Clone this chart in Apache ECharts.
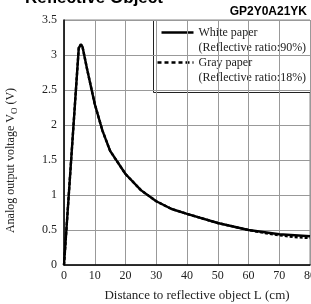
<!DOCTYPE html>
<html><head><meta charset="utf-8">
<script src="https://cdn.jsdelivr.net/npm/echarts@6/dist/echarts.min.js"></script>
<style>html,body{margin:0;padding:0;background:#fff}#c{width:311px;height:304px}</style>
</head><body><div id="c"></div>
<script>
const xTicks = [0,10,20,30,40,50,60,70,80];
const yTicks = [0,0.5,1,1.5,2,2.5,3,3.5];
const whiteDist = [0,4.8,5.5,6,7.5,10,12.5,15,20,25,30,35,40,50,60,70,80];
const whiteVolt = [0,3.1,3.15,3.12,2.8,2.3,1.92,1.63,1.3,1.07,0.91,0.8,0.73,0.6,0.5,0.44,0.41];
const grayDist = [0,4.8,5.5,6,7.5,10,12.5,15,20,25,30,35,40,50,60,65,70,75,80];
const grayVolt = [0,3.1,3.15,3.12,2.8,2.3,1.92,1.63,1.3,1.07,0.91,0.8,0.73,0.6,0.5,0.46,0.425,0.4,0.385];
const legendLabels = ['White paper','(Reflective ratio:90%)','Gray paper','(Reflective ratio:18%)'];
const titleText = 'Reflective Object';
const modelText = 'GP2Y0A21YK';

const serif = '"Liberation Serif","DejaVu Serif",serif';
const sans = '"Liberation Sans",Arial,sans-serif';
const chart = echarts.init(document.getElementById('c'));
const zip = (a,b)=>a.map((v,i)=>[v,b[i]]);
chart.setOption({
  animation:false,
  grid:{left:64,top:20,width:246,height:245,show:true,borderColor:'#888',borderWidth:1,
    containLabel:false,outerBoundsMode:'none'},
  xAxis:{type:'value',min:0,max:80,interval:10,
    axisLine:{lineStyle:{color:'#000',width:1.5}},
    axisTick:{show:false},
    splitLine:{lineStyle:{color:'#999',width:1}},
    axisLabel:{color:'#222',fontFamily:serif,fontSize:12,margin:5},
    name:'Distance to reflective object L (cm)',nameLocation:'middle',nameGap:24,
    nameTextStyle:{color:'#222',fontFamily:serif,fontSize:13,padding:[0,0,0,20]}},
  yAxis:{type:'value',min:0,max:3.5,interval:0.5,
    axisLine:{show:true,lineStyle:{color:'#000',width:1.5}},
    axisTick:{show:false},
    splitLine:{lineStyle:{color:'#999',width:1}},
    axisLabel:{color:'#222',fontFamily:serif,fontSize:12,margin:7},
    name:'Analog output voltage V{s|O} (V)',nameLocation:'middle',nameGap:45,
    nameTextStyle:{color:'#222',fontFamily:serif,fontSize:12,padding:[0,36,0,0],
      rich:{s:{fontFamily:serif,fontSize:9,verticalAlign:'bottom',padding:[7,0,0,0]}}}},
  series:[
    {type:'line',name:'Gray paper',data:zip(grayDist,grayVolt),symbol:'none',z:2,
      lineStyle:{color:'#000',width:2.4,type:[3,2]}},
    {type:'line',name:'White paper',data:zip(whiteDist,whiteVolt),symbol:'none',z:3,
      lineStyle:{color:'#000',width:2.4}}
  ],
  graphic:[
    {type:'text',left:25,top:-10,style:{text:titleText,fontFamily:sans,fontWeight:'bold',fontSize:17,fill:'#000'}},
    {type:'text',right:4,top:6,style:{text:modelText,fontFamily:sans,fontWeight:'bold',fontSize:12,fill:'#000'}},
    {type:'group',left:153,top:20,children:[
      {type:'rect',shape:{x:0,y:0,width:157,height:72},style:{fill:'#fff',stroke:'#222',lineWidth:1}},
      {type:'line',shape:{x1:8,y1:12,x2:40,y2:12},style:{stroke:'#000',lineWidth:2.4}},
      {type:'line',shape:{x1:4,y1:42,x2:40,y2:42},style:{stroke:'#000',lineWidth:2.4,lineDash:[4,3]}},
      {type:'text',x:45,y:12,style:{text:legendLabels[0],fontFamily:serif,fontSize:12,fill:'#222',verticalAlign:'middle'}},
      {type:'text',x:45,y:27,style:{text:legendLabels[1],fontFamily:serif,fontSize:12,fill:'#222',verticalAlign:'middle'}},
      {type:'text',x:45,y:42,style:{text:legendLabels[2],fontFamily:serif,fontSize:12,fill:'#222',verticalAlign:'middle'}},
      {type:'text',x:45,y:57,style:{text:legendLabels[3],fontFamily:serif,fontSize:12,fill:'#222',verticalAlign:'middle'}}
    ]}
  ]
});
</script></body></html>
